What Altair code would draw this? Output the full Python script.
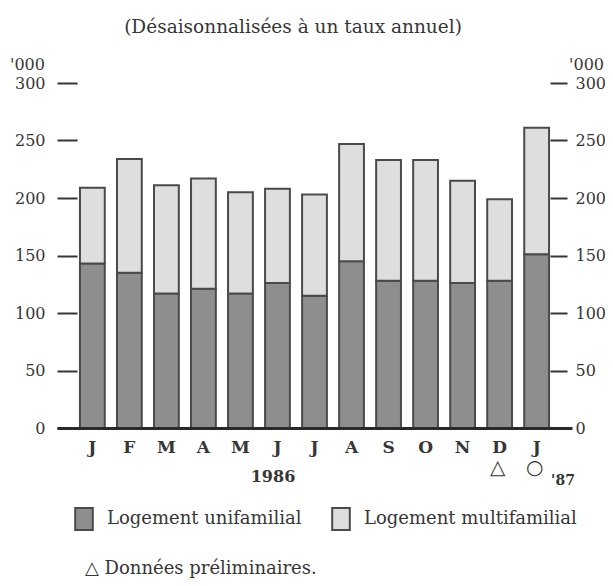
import altair as alt
import pandas as pd

# ---- data ----
keys = ["J86", "F86", "M86", "A86", "My86", "Jn86", "Jl86", "Au86", "S86", "O86", "N86", "D86", "J87"]
month_labels = ["J", "F", "M", "A", "M", "J", "J", "A", "S", "O", "N", "D", "J"]
single_family = [143, 135, 117, 121, 117, 126, 115, 145, 128, 128, 126, 128, 151]
multi_family = [66, 99, 94, 96, 88, 82, 88, 102, 105, 105, 89, 71, 110]
series = ["Logement unifamilial", "Logement multifamilial"]
series_colors = ["#8e8e8e", "#dedede"]
y_ticks = [0, 50, 100, 150, 200, 250, 300]
marker_keys = ["D86", "J87"]
marker_syms = ["△", "○"]

FONT = "DejaVu Serif"
INK = "#363636"

rows = []
for k, s, m in zip(keys, single_family, multi_family):
    rows.append({"key": k, "series": series[0], "value": s, "ord": 0})
    rows.append({"key": k, "series": series[1], "value": m, "ord": 1})
df = pd.DataFrame(rows)

label_map = "{" + ",".join(f"'{k}':'{l}'" for k, l in zip(keys, month_labels)) + "}"

W, H = 515, 345
yscale = alt.Scale(domain=[0, 300], nice=False)
xscale = alt.Scale(paddingInner=0.33, paddingOuter=0.62)
rect_symbol = "M-0.8,-1L0.8,-1L0.8,1L-0.8,1Z"

bars = alt.Chart(df).mark_bar(stroke="#4a4a4a", strokeWidth=2).encode(
    x=alt.X("key:N", sort=keys, scale=xscale,
            axis=alt.Axis(title=None, ticks=False, labelExpr=label_map + "[datum.value]",
                          labelAngle=0, labelFont=FONT, labelFontSize=17, labelFontWeight="bold",
                          labelColor=INK, labelPadding=11, domainWidth=3, domainColor="#2a2a2a",
                          zindex=1)),
    y=alt.Y("value:Q", stack="zero", scale=yscale,
            axis=alt.Axis(orient="left", values=y_ticks, title=None, grid=False, domain=False,
                          offset=-20, tickSize=20, tickWidth=2, tickColor=INK,
                          labelPadding=12, labelFont=FONT, labelFontSize=16, labelColor=INK)),
    color=alt.Color("series:N", scale=alt.Scale(domain=series, range=series_colors),
                    legend=alt.Legend(title=None, orient="none", direction="horizontal",
                                      legendX=15, legendY=424, padding=0,
                                      symbolType=rect_symbol, symbolSize=484,
                                      symbolStrokeColor="#4a4a4a", symbolStrokeWidth=2,
                                      symbolOpacity=1, labelFont=FONT, labelFontSize=18,
                                      labelColor=INK, labelOffset=11, columnPadding=26,
                                      labelLimit=400)),
    order=alt.Order("ord:Q"),
)

right_axis = alt.Chart(pd.DataFrame({"t": y_ticks})).mark_point(opacity=0).encode(
    y=alt.Y("t:Q", scale=yscale,
            axis=alt.Axis(orient="right", values=y_ticks, title=None, grid=False, domain=False,
                          offset=-22, tickSize=17, tickWidth=2, tickColor=INK,
                          labelPadding=8, labelFont=FONT, labelFontSize=16, labelColor=INK)),
)

markers = alt.Chart(pd.DataFrame({"key": marker_keys, "sym": marker_syms})).mark_text(
    font="DejaVu Sans", fontSize=20, color=INK, baseline="middle", dx=-2
).encode(x=alt.X("key:N", sort=keys, scale=xscale), y=alt.value(385), text="sym:N")


def label(text, x, y, size=16, weight="normal", align="center", baseline="middle"):
    return alt.Chart(pd.DataFrame({"t": [text]})).mark_text(
        font=FONT, fontSize=size, fontWeight=weight, color=INK, align=align, baseline=baseline
    ).encode(x=alt.value(x), y=alt.value(y), text="t:N")


texts = [
    label("(Désaisonnalisées à un taux annuel)", 236, -56, size=18.5),
    label("'000", -47, -18, size=16, align="left"),
    label("'000", 547, -18, size=16, align="right"),
    label("1986", 216, 394, size=16, weight="bold"),
    label("'87", 506, 398, size=14, weight="bold"),
    label("△ Données préliminaires.", 28, 491, size=18, align="left", baseline="alphabetic"),
]

chart = alt.layer(bars, right_axis, markers, *texts).resolve_scale(y="independent").properties(
    width=W, height=H,
    autosize=alt.AutoSizeParams(type="none"),
    padding={"left": 49, "top": 75, "right": 33, "bottom": 150},
    background="white",
).configure_view(stroke=None)

chart.save("out.html", embed_options={"renderer": "svg", "actions": False})
